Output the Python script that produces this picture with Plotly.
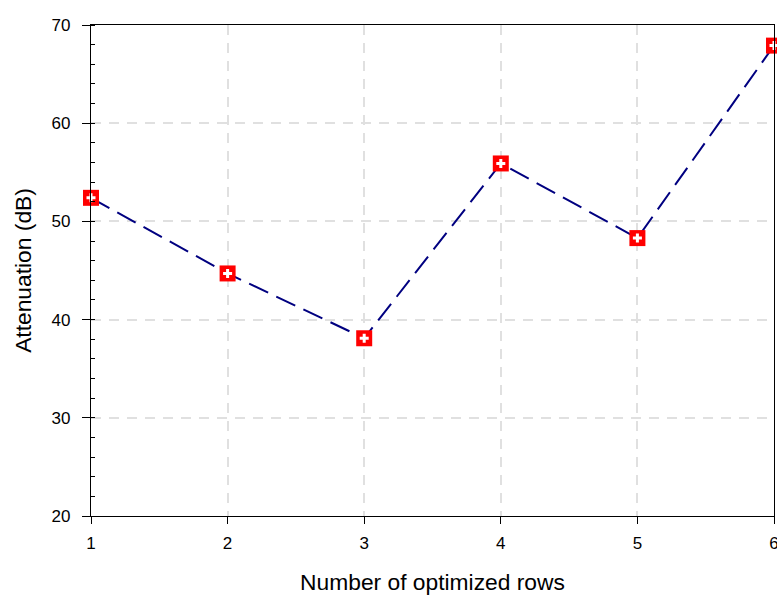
import plotly.graph_objects as go

rows = [1, 2, 3, 4, 5, 6]
attenuation = [52.4, 44.7, 38.1, 55.9, 48.3, 67.9]

fig = go.Figure()
fig.add_trace(go.Scatter(
    x=rows, y=attenuation, mode="lines+markers",
    line=dict(color="#000080", width=2, dash="21px,9px"),
    marker=dict(symbol="square", size=16, color="#ff0000", line=dict(width=0)),
    showlegend=False, cliponaxis=False,
))
fig.add_trace(go.Scatter(
    x=rows, y=attenuation, mode="markers",
    marker=dict(symbol="cross", size=7.5, color="#ffffff", line=dict(width=0)),
    showlegend=False, cliponaxis=False,
))

font = "Liberation Sans, Arial, sans-serif"
fig.update_layout(
    width=777, height=595,
    margin=dict(l=91, r=3, t=25, b=79),
    paper_bgcolor="white", plot_bgcolor="white",
    font=dict(family=font, size=17, color="black"),
    xaxis=dict(
        range=[1, 6], tickvals=rows, ticktext=[str(r) for r in rows],
        tickfont=dict(family=font, size=17, color="black"),
        ticklabeloverflow="allow", automargin=False, ticklabelstandoff=4,
        showline=True, linecolor="black", linewidth=1.3, mirror=True,
        ticks="outside", ticklen=7, tickcolor="black",
        showgrid=True, gridcolor="#e0e0e0", griddash="10px,8px", gridwidth=1.5,
        zeroline=False,
        title=dict(text="Number of optimized rows", font=dict(family=font, size=22.8), standoff=33),
    ),
    yaxis=dict(
        range=[20, 70], tickvals=[20, 30, 40, 50, 60, 70],
        tickfont=dict(family=font, size=17, color="black"),
        automargin=False, ticklabelstandoff=8,
        showline=True, linecolor="black", linewidth=1.3, mirror=True,
        ticks="outside", ticklen=8, tickcolor="black",
        minor=dict(dtick=2, ticks="inside", ticklen=4, tickcolor="black", showgrid=False),
        showgrid=True, gridcolor="#e0e0e0", griddash="10px,8px", gridwidth=1.5,
        zeroline=False,
        title=dict(text="Attenuation (dB)", font=dict(family=font, size=22.8), standoff=13),
    ),
)
fig.write_html("out.html")
